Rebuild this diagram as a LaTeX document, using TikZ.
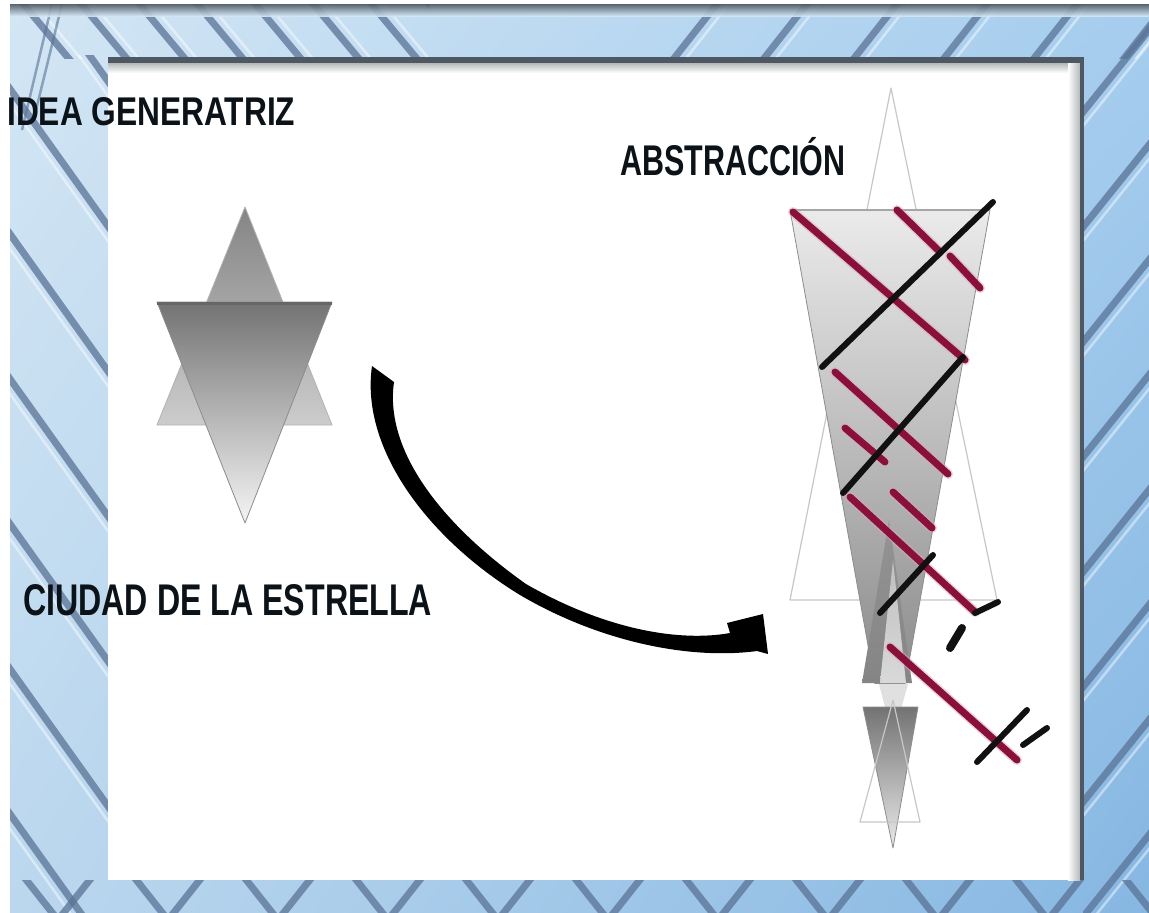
\documentclass[tikz,border=0pt]{standalone}
\usepackage{fontspec}
\usepackage{graphicx}
\usetikzlibrary{shadings}
\newfontfamily\lblfont{Liberation Sans}
\definecolor{frameA}{HTML}{D3E6F4}
\definecolor{frameB}{HTML}{A6CDEE}
\definecolor{frameC}{HTML}{BBD7EE}
\definecolor{frameD}{HTML}{86B7E2}
\definecolor{stripeblue}{HTML}{5A7396}
\definecolor{darkedge}{HTML}{4D5862}
\definecolor{panelgray}{HTML}{B4B9B8}
\definecolor{crimson}{HTML}{8A0F3A}
\definecolor{inkblack}{HTML}{111111}
\definecolor{labelink}{HTML}{0B1218}
\tikzset{
  stripe/.style={line width=7pt, draw=stripeblue, opacity=0.75},
  glint/.style={line width=2.5pt, draw=white, opacity=0.45},
  thinstripe/.style={line width=2.5pt, draw=stripeblue, opacity=0.6},
  lbl/.style={inner sep=0pt, text=labelink, font=\lblfont\bfseries},
  faint/.style={draw=black!22, line width=1.2pt},
  triedge/.style={draw=black!45, line width=0.8pt},
  redhalo/.style={draw=crimson!35, line width=10pt, line cap=round, opacity=0.5},
  redbar/.style={draw=crimson, line width=7pt, line cap=round},
  blackbar/.style={draw=inkblack, line width=6pt, line cap=round}
}
\begin{document}
\begin{tikzpicture}[x=1pt,y=-1pt,line join=round]
\useasboundingbox (0,0) rectangle (1149,913);
\fill[white] (0,0) rectangle (1149,913);

% blue frame
\shade[upper left=frameA, upper right=frameB, lower left=frameC, lower right=frameD]
  (10,4) rectangle (1149,913);

% left band: falling stripes
\begin{scope}
  \clip (10,55) rectangle (108,913);
  \foreach \y in {-70,75,...,950} {
    \draw[stripe] (0,\y) -- (130,\y+182);
    \draw[glint] (0,\y+15) -- (130,\y+197);
  }
\end{scope}

% top band, left part: falling stripes
\begin{scope}
  \clip (10,4) rectangle (430,58);
  \foreach \x in {20,78,...,430} {
    \draw[stripe] (\x,0) -- (\x+55,66);
    \draw[glint] (\x+12,0) -- (\x+67,66);
  }
\end{scope}

% thin crossing lines in the upper left corner
\begin{scope}
  \clip (10,4) rectangle (108,200);
  \draw[thinstripe] (52,4) -- (22,130);
  \draw[thinstripe] (62,4) -- (36,110);
\end{scope}

% top band, right part: rising stripes
\begin{scope}
  \clip (640,4) rectangle (1149,58);
  \foreach \x in {720,810,...,1200} {
    \draw[stripe] (\x,0) -- (\x-52,66);
    \draw[glint] (\x+12,0) -- (\x-40,66);
  }
\end{scope}

% right band: rising stripes
\begin{scope}
  \clip (1083,4) rectangle (1149,913);
  \foreach \y in {10,125,...,960} {
    \draw[stripe] (1165,\y) -- (1075,\y+112);
    \draw[glint] (1165,\y+14) -- (1075,\y+126);
  }
\end{scope}

% bottom band: crossing stripes
\begin{scope}
  \clip (10,880) rectangle (1149,913);
  \foreach \x in {20,130,...,1160} {
    \draw[stripe] (\x,872) -- (\x+38,920);
    \draw[stripe] (\x+76,872) -- (\x+38,920);
  }
\end{scope}

% shadow along the top of the frame
\shade[top color=darkedge, bottom color=frameA, opacity=0.9] (10,4) rectangle (1149,16);

% white panel
\fill[white] (108,60) rectangle (1083,880);
\shade[top color=panelgray, bottom color=white] (108,63) rectangle (1080,73);
\shade[left color=white, right color=panelgray] (1068,63) rectangle (1080,880);
\fill[darkedge] (108,57) rectangle (1084,63);
\fill[darkedge] (1080,57) rectangle (1084,880);

% labels
\node[lbl, anchor=base west] (idea) at (7,125) {\resizebox{288pt}{28pt}{IDEA GENERATRIZ}};
\node[lbl, anchor=base west] (ciudad) at (23,615) {\resizebox{409pt}{31pt}{CIUDAD DE LA ESTRELLA}};
\node[lbl, anchor=base west] (abstr) at (620,175) {\resizebox{225pt}{30pt}{ABSTRACCI\smash{Ó}N}};

% star of the city: two overlapping triangles
\shade[top color=black!48, bottom color=black!20, triedge, draw=black!30]
  (245,207) -- (332,425) -- (157,425) -- cycle;
\shade[top color=black!55, bottom color=black!4, triedge]
  (157,302) -- (332,302) -- (245,523) -- cycle;
\draw[black!60, line width=3pt] (157,303) -- (332,303);

% curved arrow: brush-like stroke with a half head
\fill[black]
  (372,366) -- (394,382)
  .. controls (384,452) and (444,526) .. (526,584)
  .. controls (606,630) and (680,642) .. (730,633)
  -- (727,623) -- (763,614) -- (768,654) -- (757,651)
  .. controls (690,660) and (600,642) .. (520,595)
  .. controls (430,540) and (360,450) .. cycle;

% abstracted star
\draw[faint] (891,88) -- (997,600) -- (790,600) -- cycle;
\begin{scope}
  \clip (700,200) rectangle (1100,683);
  \shade[top color=black!8, bottom color=black!52, triedge]
    (790,210) -- (990,210) -- (890,768) -- cycle;
\end{scope}
\draw[black!35, line width=1.5pt] (790,210) -- (990,210);
\shade[top color=black!42, bottom color=black!48] (889,520) -- (912,683) -- (862,683) -- cycle;
\shade[top color=black!25, bottom color=black!15] (893,560) -- (906,683) -- (880,683) -- cycle;
\fill[black!12] (879,684) -- (908,684) -- (893,738) -- cycle;
\shade[top color=black!55, bottom color=black!8, triedge]
  (863,707) -- (918,707) -- (893,848) -- cycle;
\draw[faint] (893,700) -- (920,822) -- (860,822) -- cycle;

% woven bars over the abstracted star
\foreach \a/\b in {{(793,212)}/{(965,360)}, {(897,210)}/{(940,252)}, {(950,256)}/{(980,288)},
                   {(835,372)}/{(948,474)}, {(845,428)}/{(885,462)}, {(850,497)}/{(975,612)},
                   {(893,492)}/{(932,528)}, {(890,647)}/{(1017,760)}} {
  \draw[redhalo] \a -- \b;
  \draw[redbar] \a -- \b;
}
\draw[blackbar] (993,202) -- (822,367);
\draw[blackbar] (963,357) -- (843,493);
\draw[blackbar] (933,555) -- (880,613);
\draw[blackbar, line width=8pt] (950,648) -- (962,628);
\draw[blackbar] (975,613) -- (998,602);
\draw[blackbar] (977,762) -- (1027,710);
\draw[blackbar] (1023,745) -- (1047,728);
\end{tikzpicture}
\end{document}
